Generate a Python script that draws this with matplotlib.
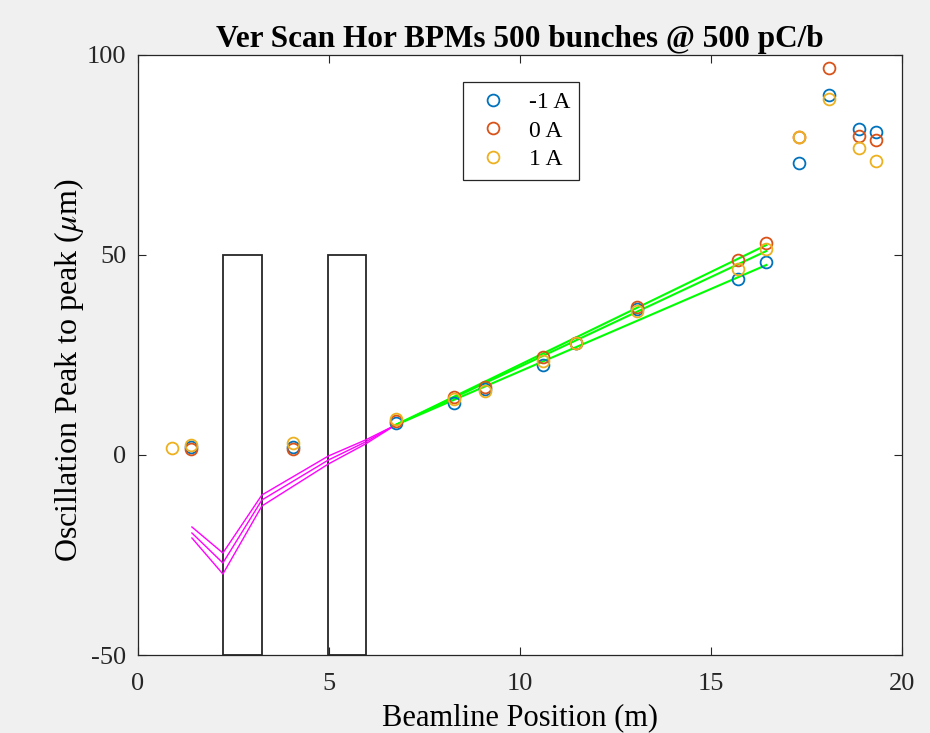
import numpy as np
import matplotlib
matplotlib.use("Agg")
import matplotlib.pyplot as plt
from matplotlib.patches import Rectangle

plt.rcParams['font.family'] = ['Liberation Serif', 'DejaVu Serif']
plt.rcParams['mathtext.fontset'] = 'stix'
plt.rcParams['axes.unicode_minus'] = False

# BPM positions (m) and peak-to-peak oscillation (um) per corrector current
bpm_x = [0.9, 1.4, 4.07, 6.75, 8.27, 9.1, 10.6, 11.47, 13.07, 15.7, 16.45, 17.3, 18.08, 18.87, 19.32]
minus1 = [np.nan, 2.0, 2.0, 8.0, 13.0, 16.5, 22.5, 28.0, 36.5, 44.0, 48.25, 73.0, 90.0, 81.5, 80.75]
zero = [np.nan, 1.5, 1.5, 8.5, 14.5, 17.0, 24.5, 28.0, 37.0, 48.75, 53.0, 79.5, 96.75, 79.75, 78.75]
plus1 = [1.75, 2.5, 3.0, 9.0, 14.0, 16.0, 23.5, 28.0, 36.0, 46.5, 51.5, 79.5, 89.0, 76.75, 73.5]
labels = ['-1 A', '0 A', '1 A']
colors = ['#0072BD', '#D95319', '#EDB120']

# back-tracked orbit through the magnets (magenta)
track_x = [1.42, 2.23, 3.25, 4.99, 5.96, 6.75]
track_a = [-18.0, -24.5, -10.0, -0.25, 3.75, 7.5]
track_b = [-19.5, -27.0, -11.25, -1.25, 3.25, 7.5]
track_c = [-20.75, -29.75, -12.75, -2.25, 2.75, 7.5]

# linear fits over the straight section (green)
fit_x = [6.75, 16.45]
fit_a = [7.5, 52.5]
fit_b = [7.5, 51.0]
fit_c = [7.5, 47.5]

# magnet extents (m)
magnets = [(2.23, 3.25), (4.97, 5.97)]
mag_lo, mag_hi = -50, 50

fig = plt.figure(figsize=(9.3, 7.33), dpi=100, facecolor='#f0f0f0')
ax = fig.add_axes([0.148, 0.1064, 0.822, 0.8186])

for x0, x1 in magnets:
    ax.add_patch(Rectangle((x0, mag_lo), x1 - x0, mag_hi - mag_lo, fill=False,
                           edgecolor='#262626', lw=1.3, clip_on=False, zorder=2))

for tr in [track_a, track_b, track_c]:
    ax.plot(track_x, tr, color='#ff00ff', lw=1.0, zorder=3)
for ft in [fit_a, fit_b, fit_c]:
    ax.plot(fit_x, ft, color='#00ff00', lw=1.5, zorder=3)

for vals, c, lab in zip([minus1, zero, plus1], colors, labels):
    ax.plot(bpm_x, vals, 'o', mfc='none', mec=c, ms=8.5, mew=1.3, label=lab, zorder=4)

ax.set_xlim(0, 20)
ax.set_ylim(-50, 100)
ax.set_xticks([0, 5, 10, 15, 20])
ax.set_yticks([-50, 0, 50, 100])
ax.tick_params(direction='in', top=True, right=True, labelsize=19, length=6,
               width=0.8, colors='#262626')
ax.tick_params(axis='x', pad=13)
ax.tick_params(axis='y', pad=8)
for s in ax.spines.values():
    s.set_color('#262626')
    s.set_linewidth(0.9)

ax.set_title('Ver Scan Hor BPMs 500 bunches @ 500 pC/b', fontsize=22.5,
             fontweight='bold', pad=6)
ax.set_xlabel('Beamline Position (m)', fontsize=22, labelpad=6)
ax.set_ylabel(r'Oscillation Peak to peak ($\mu$m)', fontsize=23)
ax.yaxis.set_label_coords(-0.067, 0.475)

leg = ax.legend(loc='upper left', bbox_to_anchor=(0.425, 0.955), fontsize=17,
                fancybox=False, edgecolor='#262626', framealpha=1,
                handletextpad=0.6, borderpad=0.4, labelspacing=0.3,
                handlelength=1.8, borderaxespad=0)
leg.get_frame().set_linewidth(0.9)

fig.savefig('out.png', dpi=100, facecolor=fig.get_facecolor())
